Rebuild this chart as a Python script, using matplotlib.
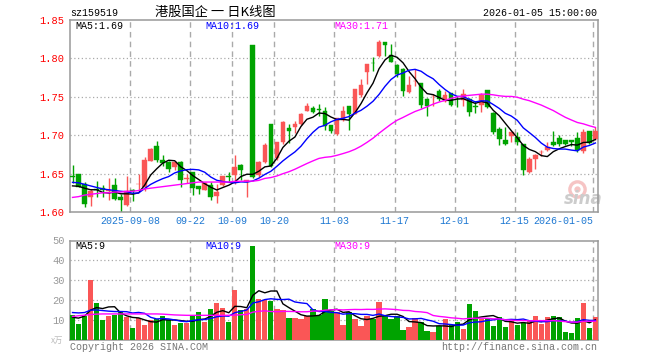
import matplotlib
matplotlib.use("Agg")

import matplotlib.pyplot as plt
import numpy as np
import pandas as pd


# daily candles, 2025-08-26 .. 2026-01-05 (88 trading days)
opens = [
    1.6465, 1.650, 1.636, 1.620, 1.630, 1.631, 1.627, 1.635, 1.619, 1.609,
    1.628, 1.636, 1.633, 1.667, 1.6855, 1.668, 1.665, 1.658, 1.665, 1.6434,
    1.6526, 1.634, 1.629, 1.6355, 1.6202, 1.6346, 1.6465, 1.6478, 1.661, 1.6395,
    1.8175, 1.6478, 1.6654, 1.7145, 1.670, 1.6908, 1.7088, 1.7101, 1.7149, 1.732,
    1.7355, 1.7338, 1.7311, 1.7136, 1.7018, 1.7202, 1.7386, 1.7281, 1.7518, 1.7829,
    1.7943, 1.8026, 1.8211, 1.8044, 1.7912, 1.786, 1.7561, 1.7702, 1.7684, 1.7474,
    1.7505, 1.7575, 1.7443, 1.7553, 1.7469, 1.7456, 1.7469, 1.7375, 1.7395, 1.7592,
    1.7285, 1.7075, 1.6943, 1.6991, 1.6978, 1.689, 1.6518, 1.6684, 1.678, 1.6803,
    1.6912, 1.6969, 1.6943, 1.6934, 1.6969, 1.6794, 1.7053, 1.6956,
]

highs = [
    1.661, 1.650, 1.639, 1.630, 1.641, 1.635, 1.644, 1.644, 1.623, 1.647,
    1.630, 1.650, 1.671, 1.683, 1.693, 1.674, 1.667, 1.667, 1.667, 1.650,
    1.6526, 1.634, 1.639, 1.639, 1.6368, 1.647, 1.652, 1.6741, 1.6623, 1.6412,
    1.8175, 1.667, 1.6903, 1.7145, 1.6917, 1.718, 1.7149, 1.718, 1.729, 1.742,
    1.7377, 1.7412, 1.7368, 1.7136, 1.722, 1.7386, 1.7386, 1.760, 1.7728, 1.7925,
    1.8013, 1.8246, 1.8211, 1.819, 1.7925, 1.788, 1.7772, 1.786, 1.7684, 1.7487,
    1.7531, 1.7597, 1.7575, 1.7553, 1.7509, 1.7605, 1.7482, 1.7439, 1.7548, 1.7592,
    1.7307, 1.711, 1.711, 1.7044, 1.7044, 1.689, 1.6715, 1.675, 1.6803, 1.6912,
    1.7057, 1.700, 1.6943, 1.6934, 1.7044, 1.7075, 1.7053, 1.711,
]

lows = [
    1.638, 1.632, 1.607, 1.608, 1.619, 1.620, 1.615, 1.616, 1.600, 1.608,
    1.614, 1.627, 1.627, 1.666, 1.665, 1.660, 1.652, 1.655, 1.633, 1.638,
    1.622, 1.623, 1.628, 1.616, 1.6114, 1.634, 1.639, 1.6368, 1.6421, 1.620,
    1.644, 1.645, 1.664, 1.659, 1.668, 1.689, 1.6895, 1.7026, 1.7136, 1.7311,
    1.729, 1.7246, 1.707, 1.7026, 1.7004, 1.718, 1.7062, 1.727, 1.750, 1.7662,
    1.7838, 1.8013, 1.8035, 1.7947, 1.7763, 1.751, 1.7553, 1.764, 1.7355, 1.7246,
    1.738, 1.7443, 1.743, 1.738, 1.7368, 1.738, 1.725, 1.7285, 1.7307, 1.735,
    1.7022, 1.6868, 1.6868, 1.6912, 1.6868, 1.6487, 1.6509, 1.6561, 1.6724, 1.679,
    1.6855, 1.6855, 1.6868, 1.6855, 1.678, 1.6768, 1.688, 1.6934,
]

closes = [
    1.646, 1.633, 1.611, 1.627, 1.628, 1.629, 1.6285, 1.6175, 1.6158, 1.6276,
    1.627, 1.6365, 1.668, 1.6816, 1.668, 1.6636, 1.6557, 1.6649, 1.642, 1.6439,
    1.6307, 1.6298, 1.6377, 1.6193, 1.6259, 1.6465, 1.645, 1.6588, 1.6544, 1.6412,
    1.6456, 1.6654, 1.6873, 1.660, 1.6908, 1.7167, 1.7057, 1.7149, 1.7281, 1.7386,
    1.7298, 1.733, 1.7114, 1.7057, 1.7219, 1.7311, 1.7281, 1.7596, 1.7649, 1.7925,
    1.7937, 1.8219, 1.8175, 1.7947, 1.7794, 1.7575, 1.7649, 1.7706, 1.7399, 1.7377,
    1.7509, 1.7465, 1.7518, 1.7399, 1.7465, 1.7531, 1.7307, 1.737, 1.7526, 1.7373,
    1.7044, 1.6956, 1.6882, 1.7044, 1.6908, 1.6548, 1.6693, 1.6737, 1.6785, 1.6846,
    1.6868, 1.6882, 1.6882, 1.6912, 1.6811, 1.704, 1.6899, 1.706,
]

# volume, 10k lots
volumes = [
    12.6, 8.0, 12.1, 30.2, 18.6, 10.1, 12.1, 12.6, 14.6, 11.4,
    6.0, 10.9, 7.6, 10.1, 10.4, 12.1, 10.1, 7.6, 8.6, 8.6,
    12.1, 14.3, 9.1, 15.6, 18.6, 16.1, 9.1, 25.2, 15.1, 15.6,
    47.3, 20.6, 20.0, 19.6, 15.6, 15.1, 11.1, 11.1, 10.6, 12.1,
    15.6, 12.4, 20.6, 14.6, 14.1, 7.6, 14.1, 10.6, 7.0, 12.1,
    10.6, 19.3, 12.1, 10.6, 12.1, 5.0, 6.5, 11.1, 9.1, 4.5,
    4.0, 7.0, 10.6, 7.6, 9.1, 5.5, 18.1, 14.6, 10.6, 11.1,
    7.0, 11.6, 6.5, 9.6, 7.6, 8.6, 9.6, 12.1, 8.1, 11.6,
    12.1, 11.6, 4.0, 3.5, 11.1, 18.6, 6.0, 11.6,
]

# MA values at the left edge depend on days before the window
ma5_head = [1.634, 1.6335, 1.631, 1.629]
ma10_head = [1.6386, 1.638, 1.636, 1.634, 1.632, 1.630, 1.629, 1.628, 1.627]
ma30_head = [
    1.619, 1.620, 1.622, 1.623, 1.624, 1.625, 1.625, 1.626, 1.626, 1.627,
    1.627, 1.628, 1.630, 1.631, 1.632, 1.633, 1.634, 1.635, 1.636, 1.637,
    1.638, 1.639, 1.639, 1.639, 1.639, 1.639, 1.639, 1.640, 1.640,
]
vol_ma5_head = [11.4, 11.0, 12.0, 15.0]
vol_ma10_head = [13.8, 13.6, 13.8, 15.0, 15.1, 14.8, 14.5, 14.3, 14.3]
vol_ma30_head = [
    11.8, 12.2, 12.5, 12.8, 13.0, 13.1, 13.1, 13.1, 13.1, 13.1,
    13.1, 13.1, 13.1, 13.1, 13.1, 13.0, 12.8, 12.6, 12.5, 12.4,
    12.4, 12.4, 12.4, 12.4, 12.4, 12.4, 12.4, 12.5, 12.7,
]

tick_pos = [10, 20, 27, 34, 44, 54, 64, 74, 87]
tick_labels = [
    "2025-09-08", "09-22", "10-09", "10-20", "11-03",
    "11-17", "12-01", "12-15", "2026-01-05",
]
price_ticks = [1.60, 1.65, 1.70, 1.75, 1.80, 1.85]
vol_ticks = [10, 20, 30, 40, 50]

price_ma_text = ["MA5:1.69", "MA10:1.69", "MA30:1.71"]
vol_ma_text = ["MA5:9", "MA10:9", "MA30:9"]

RED = "#fa5656"
GREEN = "#00a300"
GRID = "#aaaaaa"
FRAME = "#999999"
MA_COLORS = ["#000000", "#0000ff", "#ff00ff"]
MONO = "Liberation Mono"

plt.rcParams["font.family"] = [MONO, "Noto Sans CJK SC", "DejaVu Sans"]

W, H = 660, 360


def moving_average(values, window, head):
    ma = pd.Series(values).rolling(window).mean().to_numpy()
    ma[:len(head)] = head
    return ma


def px_axes(fig, left, top, right, bottom):
    return fig.add_axes([
        left / W,
        1 - bottom / H,
        (right - left) / W,
        (bottom - top) / H,
    ])


def style_frame(ax, grid_levels, yticks, ycolor):
    for s in ax.spines.values():
        s.set_color(FRAME)
        s.set_linewidth(1.1)
    ax.set_xlim(-0.42, 87.35)
    ax.set_yticks(yticks)
    ax.tick_params(axis="y", length=0, pad=4, labelsize=7.5, labelcolor=ycolor)
    for t in grid_levels:
        ax.axhline(t, color=GRID, lw=0.9, ls=(0, (1, 2)), zorder=0)
    for p in tick_pos:
        ax.axvline(p - 0.42, color=GRID, lw=1, ls=(0, (4, 3)), zorder=0)


fig = plt.figure(figsize=(W / 100, H / 100), dpi=100, facecolor="white")

x = np.arange(len(closes))
o = np.array(opens)
c = np.array(closes)
up = c >= o
colors = np.where(up, RED, GREEN)

# ---- price panel
ax = px_axes(fig, 70, 20, 597.5, 212)
style_frame(ax, price_ticks[1:-1], price_ticks, "#ff0000")
ax.set_ylim(1.60, 1.85)
ax.set_yticklabels(["%.2f" % v for v in price_ticks])

# sina watermark, drawn behind the candles
ax.plot([84.0], [1.6295], "o", ms=11, mfc="none", mec="#f6c4c4", mew=2.4, zorder=1)
ax.plot([84.0], [1.6295], "o", ms=3.5, color="#f6c4c4", zorder=1)
ax.text(85.0, 1.6055, "sina", fontsize=12, fontweight="bold", style="italic",
        family="DejaVu Sans", color="#cccccc", ha="center", va="bottom", zorder=1)

ax.vlines(x, lows, highs, colors=colors, lw=1, zorder=2)
body = np.maximum(np.abs(c - o), 0.0007)
ax.bar(
    x, body, bottom=np.minimum(o, c), width=0.78,
    color=colors, edgecolor=colors, linewidth=0.3, zorder=3
)

for win, head, col in zip([5, 10, 30], [ma5_head, ma10_head, ma30_head], MA_COLORS):
    ax.plot(x, moving_average(closes, win, head), color=col, lw=1, zorder=4)

ax.set_xticks([p - 0.42 for p in tick_pos])
ax.set_xticklabels(tick_labels)
ax.tick_params(axis="x", length=0, pad=3, labelsize=7.2, labelcolor="#1e78d2")
ax.get_xticklabels()[-1].set_ha("right")

# ---- volume panel
av = px_axes(fig, 70, 240.5, 597.5, 340)
style_frame(av, vol_ticks[:-1], vol_ticks, "#999999")
av.set_ylim(0, 50)
av.set_xticks([])
av.bar(x, volumes, width=0.88, color=colors, linewidth=0, zorder=3)
for win, head, col in zip([5, 10, 30], [vol_ma5_head, vol_ma10_head, vol_ma30_head], MA_COLORS):
    av.plot(x, moving_average(volumes, win, head), color=col, lw=1, zorder=4)


# ---- texts
def ftext(px, py, s, **kw):
    fig.text(px / W, 1 - py / H, s, va="center", **kw)


ftext(70, 12.5, "sz159519", fontsize=7.2)
ftext(215, 12.5, "港股国企 一 日K线图", fontsize=9.5, ha="center",
      family=["Noto Sans CJK SC", "DejaVu Sans"])
ftext(597, 12.5, "2026-01-05 15:00:00", fontsize=7.2, ha="right")

for px, s, col in zip([75, 205, 334], price_ma_text, MA_COLORS):
    ftext(px, 26, s, fontsize=7.2, color=col)
for px, s, col in zip([75, 205, 334], vol_ma_text, MA_COLORS):
    ftext(px, 246, s, fontsize=7.2, color=col)

ftext(63, 340, "x万", fontsize=6, ha="right", color="#bbbbbb",
      family=["Noto Sans CJK SC", "DejaVu Sans"])
ftext(70, 346.5, "Copyright 2026 SINA.COM", fontsize=7.2, color="#777777")
ftext(597, 346.5, "http://finance.sina.com.cn", fontsize=7.2, ha="right", color="#777777")

fig.savefig("out.png", dpi=100)
